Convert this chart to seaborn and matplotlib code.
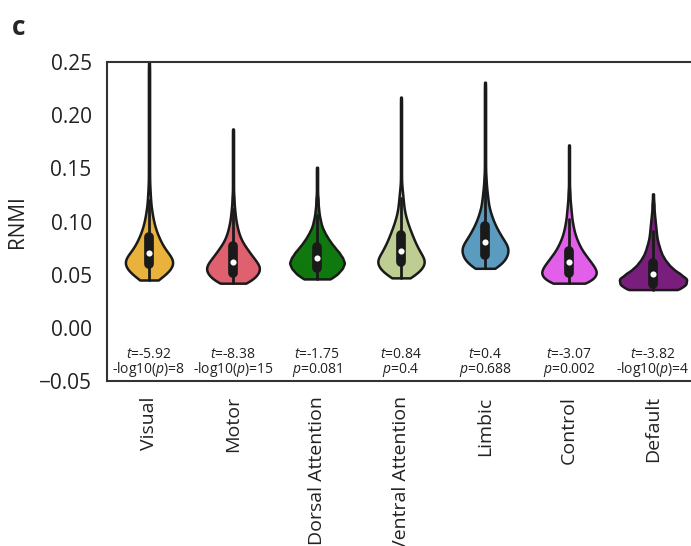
import numpy as np
import matplotlib
matplotlib.use("Agg")
import matplotlib.pyplot as plt
import seaborn as sns
import pandas as pd

# networks shown on the x axis
networks = ["Visual", "Motor", "Dorsal Attention", "Ventral Attention",
            "Limbic", "Control", "Default"]
colors = ["#E9B23C", "#DF606F", "#0F780F", "#BECE92",
          "#5B9BC0", "#E25FE9", "#7A1E7E"]

# RNMI read off the violins as counts in 0.005-wide bins,
# starting at each network's minimum value
bin_step = 0.005
visual_start = 0.045
visual_counts = [15, 30, 38, 44, 44, 32, 26, 21, 17, 13, 10, 8, 6, 5, 3, 3,
                 2, 2, 1, 1, 1, 1, 1, 1, 1, 1, 1, 1, 1, 1, 1, 1, 1, 1, 1, 1,
                 1, 1, 1, 1, 1, 1]
motor_start = 0.042
motor_counts = [26, 40, 48, 50, 44, 36, 29, 22, 16, 12, 9, 7, 5, 4, 3, 2, 2,
                1, 1, 1, 1, 1, 1, 1, 1, 1, 1, 1, 1, 1]
dorsal_start = 0.046
dorsal_counts = [24, 36, 44, 48, 44, 38, 30, 23, 17, 12, 8, 6, 4, 3, 2, 2,
                 1, 1, 1, 1, 1, 1]
ventral_start = 0.047
ventral_counts = [18, 34, 43, 48, 43, 36, 31, 26, 22, 18, 14, 11, 8, 6, 5, 4,
                  3, 2, 1, 1, 1, 1, 1, 1, 1, 1, 1, 1, 1, 1, 1, 1, 1, 1, 1]
limbic_start = 0.056
limbic_counts = [18, 31, 37, 40, 41, 34, 28, 23, 18, 14, 11, 8, 6, 5, 4, 3,
                 2, 2, 1, 1, 1, 1, 1, 1, 1, 1, 1, 1, 1, 1, 1, 1, 1, 1, 1, 1]
control_start = 0.042
control_counts = [36, 52, 57, 52, 44, 36, 28, 22, 17, 13, 10, 8, 6, 5, 4, 3,
                  2, 2, 1, 1, 1, 1, 1, 1, 1, 1, 1]
default_start = 0.036
default_counts = [50, 62, 64, 50, 36, 27, 20, 15, 12, 9, 7, 6, 5, 4, 3,
                  2, 2, 1, 1]

# test statistics printed under each violin
t_labels = ["-5.92", "-8.38", "-1.75", "0.84", "0.4", "-3.07", "-3.82"]
p_labels = ["-log10($\\mathit{p}$)=8", "-log10($\\mathit{p}$)=15",
            "$\\mathit{p}$=0.081", "$\\mathit{p}$=0.4", "$\\mathit{p}$=0.688",
            "$\\mathit{p}$=0.002", "-log10($\\mathit{p}$)=4"]

starts = [visual_start, motor_start, dorsal_start, ventral_start,
          limbic_start, control_start, default_start]
counts = [visual_counts, motor_counts, dorsal_counts, ventral_counts,
          limbic_counts, control_counts, default_counts]

rows = []
for name, start, cnt in zip(networks, starts, counts):
    levels = start + bin_step * np.arange(len(cnt))
    for v in np.repeat(levels, cnt):
        rows.append((name, v))
df = pd.DataFrame(rows, columns=["network", "RNMI"])

sns.set_style("white")
plt.rcParams["font.family"] = ["Open Sans", "DejaVu Sans"]
plt.rcParams["mathtext.fontset"] = "custom"
plt.rcParams["mathtext.it"] = "Open Sans:italic"
plt.rcParams["mathtext.rm"] = "Open Sans"

fig = plt.figure(figsize=(6.91, 5.46), dpi=100)
ax = fig.add_axes([107 / 691, 0.3022, 588 / 691, 0.5842])

sns.violinplot(data=df, x="network", y="RNMI", hue="network", order=networks,
               palette=colors, legend=False, cut=0, bw_adjust=0.5,
               density_norm="area", common_norm=True,
               linewidth=1.8, linecolor="#1a1a1a", saturation=1, ax=ax,
               inner_kws=dict(box_width=7, whis_width=2, marker="o",
                              markersize=3, color="#1a1a1a"))

for i in range(len(networks)):
    ax.text(i, -0.033, "$\\mathit{t}$=" + t_labels[i] + "\n" + p_labels[i],
            ha="center", va="center", fontsize=10, linespacing=0.85,
            color="#222222")

ax.set_xlim(-0.5, 6.5)
ax.set_ylim(-0.05, 0.25)
yt = np.arange(-0.05, 0.26, 0.05)
ax.set_yticks(yt)
ax.set_yticklabels([f"{v:.2f}".replace("-", "\u2212") for v in yt])
ax.tick_params(axis="both", length=0, colors="#222222")
ax.tick_params(axis="y", pad=11, labelsize=15)
ax.tick_params(axis="x", pad=11, labelrotation=90, labelsize=14)
ax.set_xlabel("")
ax.set_ylabel("RNMI", fontsize=15, labelpad=8, color="#222222")
for s in ax.spines.values():
    s.set_color("#333333")
    s.set_linewidth(1.5)

fig.text(0.017, 0.975, "c", fontsize=19, fontweight="bold", va="top", ha="left")

fig.savefig("out.png", dpi=100)
